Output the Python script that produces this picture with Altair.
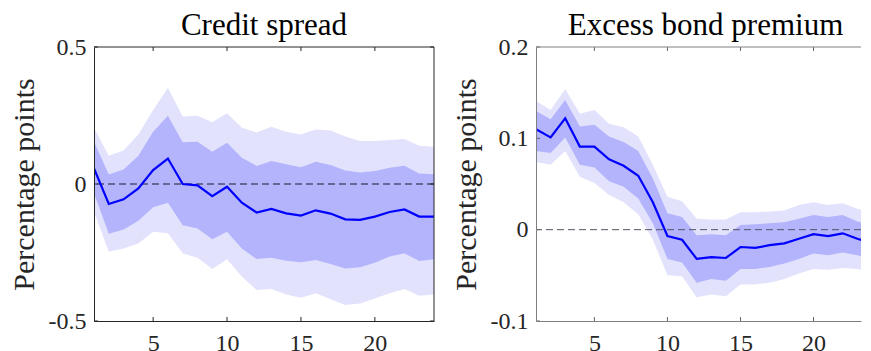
import altair as alt
import pandas as pd

FONT = "Liberation Serif"

horizon = list(range(1, 25))
x_ticks = [5, 10, 15, 20]

# Credit spread impulse response (percentage points)
cs_median = [0.057, -0.073, -0.056, -0.016, 0.051, 0.093, 0.000, -0.005, -0.044, -0.010,
             -0.068, -0.104, -0.091, -0.107, -0.115, -0.096, -0.108, -0.129, -0.131, -0.119,
             -0.102, -0.093, -0.119, -0.119]
cs_inner_hi = [0.154, 0.035, 0.053, 0.103, 0.191, 0.249, 0.152, 0.154, 0.118, 0.151,
               0.096, 0.066, 0.084, 0.072, 0.061, 0.081, 0.069, 0.049, 0.042, 0.047,
               0.059, 0.067, 0.038, 0.036]
cs_inner_lo = [-0.034, -0.182, -0.166, -0.134, -0.085, -0.068, -0.151, -0.162, -0.202, -0.174,
               -0.235, -0.274, -0.269, -0.280, -0.286, -0.277, -0.292, -0.308, -0.304, -0.287,
               -0.265, -0.253, -0.281, -0.275]
cs_outer_hi = [0.205, 0.103, 0.122, 0.181, 0.270, 0.351, 0.246, 0.249, 0.225, 0.258,
               0.205, 0.188, 0.209, 0.191, 0.181, 0.199, 0.195, 0.173, 0.157, 0.157,
               0.161, 0.164, 0.140, 0.136]
cs_outer_lo = [-0.101, -0.247, -0.235, -0.217, -0.174, -0.180, -0.253, -0.269, -0.310, -0.275,
               -0.338, -0.387, -0.383, -0.403, -0.415, -0.399, -0.421, -0.442, -0.436, -0.418,
               -0.399, -0.383, -0.408, -0.403]

# Excess bond premium impulse response (percentage points)
ebp_median = [0.110, 0.101, 0.122, 0.091, 0.091, 0.077, 0.070, 0.059, 0.030, -0.007,
              -0.011, -0.032, -0.030, -0.031, -0.019, -0.020, -0.017, -0.015, -0.010, -0.005,
              -0.007, -0.004, -0.010, -0.015]
ebp_inner_hi = [0.130, 0.121, 0.142, 0.113, 0.115, 0.102, 0.096, 0.086, 0.056, 0.018,
                0.014, -0.006, -0.005, -0.006, 0.005, 0.006, 0.007, 0.008, 0.012, 0.016,
                0.014, 0.016, 0.009, 0.004]
ebp_inner_lo = [0.086, 0.084, 0.101, 0.071, 0.068, 0.053, 0.047, 0.034, 0.007, -0.032,
                -0.036, -0.058, -0.054, -0.056, -0.043, -0.043, -0.041, -0.037, -0.032, -0.026,
                -0.028, -0.025, -0.028, -0.032]
ebp_outer_hi = [0.141, 0.131, 0.154, 0.127, 0.131, 0.116, 0.112, 0.102, 0.071, 0.036,
                0.031, 0.012, 0.011, 0.011, 0.019, 0.019, 0.020, 0.021, 0.027, 0.030,
                0.027, 0.029, 0.023, 0.018]
ebp_outer_lo = [0.074, 0.071, 0.086, 0.058, 0.051, 0.038, 0.030, 0.017, -0.011, -0.050,
                -0.051, -0.074, -0.071, -0.073, -0.060, -0.060, -0.058, -0.054, -0.048, -0.043,
                -0.044, -0.042, -0.043, -0.046]

cs_y_ticks = [-0.5, 0, 0.5]
ebp_y_ticks = [-0.1, 0, 0.1, 0.2]

OUTER = "#e2e2fd"
INNER = "#b4b4fc"
LINE = "#0000ff"
H = 274

label_expr = ("datum.value == 0 ? '0' : (datum.value < 0 ? '-' + format(-datum.value, '.1f') "
              ": format(datum.value, '.1f'))")


def panel(title, med, ilo, ihi, olo, ohi, ydom, yticks, xmax, W, frame, zero_color,
          tick_color, boxed, title_dx):
    df = pd.DataFrame({"h": horizon, "m": med, "ilo": ilo, "ihi": ihi, "olo": olo, "ohi": ohi})
    xs = alt.Scale(domain=[1, xmax], nice=False, zero=False)
    ys = alt.Scale(domain=ydom, nice=False, zero=False)
    xaxis = alt.Axis(values=x_ticks, title=None, ticks=False, tickSize=0, labelPadding=10,
                     labelFontSize=24, labelFont=FONT, labelColor="#262626", grid=False,
                     domain=True, domainColor=frame, domainWidth=1, labelAngle=0,
                     format="d", zindex=2)
    yaxis = alt.Axis(values=yticks, title="Percentage points", ticks=False, tickSize=0,
                     labelPadding=8, labelFontSize=24, labelFont=FONT, labelColor="#262626",
                     grid=False, domain=True, domainColor=frame, domainWidth=1,
                     labelExpr=label_expr, titleFont=FONT, titleFontSize=30,
                     titleFontWeight="normal", titleColor="#262626", titlePadding=9,
                     zindex=2)

    def X(f):
        return alt.X(f, scale=xs, axis=xaxis)

    def Y(f):
        return alt.Y(f, scale=ys, axis=yaxis)

    base = alt.Chart(df)
    outer = base.mark_area(color=OUTER, clip=True).encode(x=X("h:Q"), y=Y("olo:Q"), y2="ohi:Q")
    inner = base.mark_area(color=INNER, clip=True).encode(x=X("h:Q"), y=Y("ilo:Q"), y2="ihi:Q")
    zero = alt.Chart(pd.DataFrame({"z": [0]})).mark_rule(
        color=zero_color, strokeDash=[7, 4], strokeWidth=1
    ).encode(y=Y("z:Q"))
    line = base.mark_line(color=LINE, strokeWidth=2.2, clip=True).encode(x=X("h:Q"), y=Y("m:Q"))
    xt = alt.Chart(pd.DataFrame({"t": x_ticks}))
    yt = alt.Chart(pd.DataFrame({"t": yticks}))
    tick_bot = xt.mark_rule(color=tick_color, strokeWidth=1).encode(
        x=X("t:Q"), y=alt.value(H), y2=alt.value(H - 4))
    tick_top = xt.mark_rule(color=tick_color, strokeWidth=1).encode(
        x=X("t:Q"), y=alt.value(0), y2=alt.value(4))
    tick_left = yt.mark_rule(color=tick_color, strokeWidth=1).encode(
        y=Y("t:Q"), x=alt.value(0), x2=alt.value(4))
    top_rule = alt.Chart(pd.DataFrame({"z": [0]})).mark_rule(color=frame, strokeWidth=1).encode(
        x=alt.value(0), x2=alt.value(W), y=alt.value(0))
    layers = [outer, inner, zero, line, tick_bot, tick_top, tick_left, top_rule]
    if boxed:
        tick_right = yt.mark_rule(color=tick_color, strokeWidth=1).encode(
            y=Y("t:Q"), x=alt.value(W - 4), x2=alt.value(W))
        right_rule = alt.Chart(pd.DataFrame({"z": [0]})).mark_rule(
            color=frame, strokeWidth=1).encode(
            x=alt.value(W), y=alt.value(0), y2=alt.value(H))
        layers += [tick_right, right_rule]
    return alt.layer(*layers).properties(
        width=W, height=H,
        title=alt.TitleParams(title, font=FONT, fontSize=31, fontWeight="normal",
                              color="#000000", offset=-7, frame="group", dx=title_dx),
        view=alt.ViewBackground(stroke="transparent"),
    )


left = panel("Credit spread", cs_median, cs_inner_lo, cs_inner_hi, cs_outer_lo, cs_outer_hi,
             [-0.5, 0.5], cs_y_ticks, 24, 340, "#262626", "#1a1a33", "#262626", True, 0)
right = panel("Excess bond premium", ebp_median, ebp_inner_lo, ebp_inner_hi, ebp_outer_lo,
              ebp_outer_hi, [-0.1, 0.2], ebp_y_ticks, 23.25, 325, "#808080", "#555566",
              "#666666", False, 7)

chart = alt.hconcat(left, right, spacing=15).properties(
    padding={"left": 0, "top": 1, "right": 0, "bottom": 0}
).configure(background="white")

chart.save("out.html", embed_options={"renderer": "svg", "actions": False})
